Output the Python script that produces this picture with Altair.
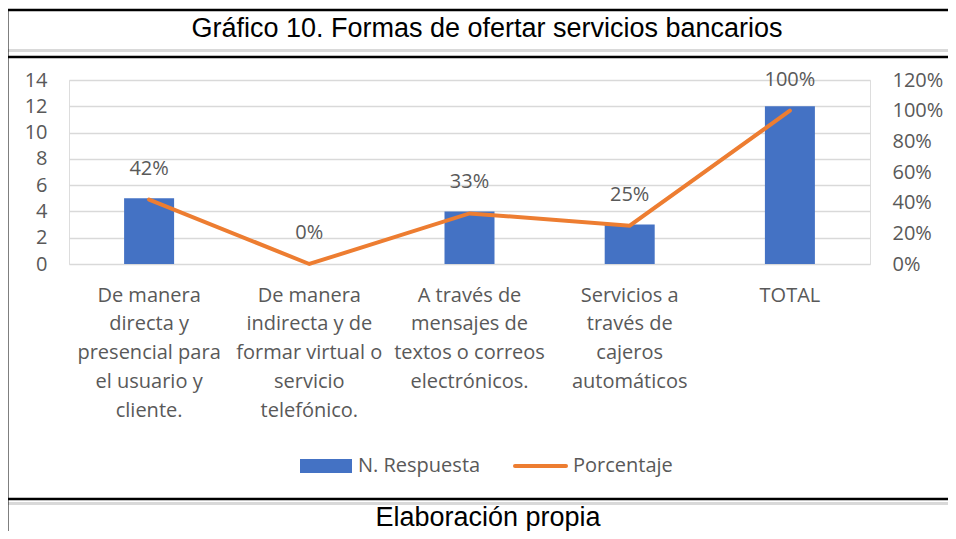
import altair as alt
import pandas as pd

categories = [
    "De manera|directa y|presencial para|el usuario y|cliente.",
    "De manera|indirecta y de|formar virtual o|servicio|telefónico.",
    "A través de|mensajes de|textos o correos|electrónicos.",
    "Servicios a|través de|cajeros|automáticos",
    "TOTAL",
]
respuestas = [5, 0, 4, 3, 12]
porcentaje = [0.42, 0.0, 0.33, 0.25, 1.00]
etiquetas = ["42%", "0%", "33%", "25%", "100%"]
count_ticks = [0, 2, 4, 6, 8, 10, 12, 14]
pct_ticks = [0, 0.2, 0.4, 0.6, 0.8, 1.0, 1.2]

title_text = "Gráfico 10. Formas de ofertar servicios bancarios"
footer_text = "Elaboración propia"
legend_names = ["N. Respuesta", "Porcentaje"]

df = pd.DataFrame({"cat": categories, "n": respuestas, "p": porcentaje, "lab": etiquetas})

FONT = "Open Sans"
FS = 20
GREY = "#595959"
BLUE = "#4472C4"
ORANGE = "#ED7D31"

x_enc = alt.X(
    "cat:N",
    sort=None,
    title=None,
    scale=alt.Scale(paddingInner=0, paddingOuter=0),
    axis=alt.Axis(
        labelAngle=0,
        labelExpr="split(datum.label, '|')",
        labelFont=FONT,
        labelFontSize=FS,
        labelColor=GREY,
        labelLineHeight=28.8,
        labelPadding=21,
        labelLimit=0,
        ticks=False,
        domain=False,
        grid=False,
    ),
)

base = alt.Chart(df)

bars = base.mark_bar(color=BLUE, size=50).encode(
    x=x_enc,
    y=alt.Y(
        "n:Q",
        title=None,
        scale=alt.Scale(domain=[0, 14], nice=False),
        axis=alt.Axis(
            values=count_ticks,
            labelFont=FONT,
            labelFontSize=FS,
            labelColor=GREY,
            labelPadding=22,
            ticks=False,
            tickSize=0,
            domain=False,
            grid=True,
            gridColor="#D9D9D9",
            gridWidth=1.3,
        ),
    ),
)

pct_scale = alt.Scale(domain=[0, 1.2], nice=False)
pct_axis = alt.Axis(
    orient="right",
    values=pct_ticks,
    format=".0%",
    labelFont=FONT,
    labelFontSize=FS,
    labelColor=GREY,
    labelPadding=22,
    ticks=False,
    tickSize=0,
    domain=False,
    grid=False,
)

line = base.mark_line(color=ORANGE, strokeWidth=4, strokeCap="round").encode(
    x=x_enc,
    y=alt.Y("p:Q", title=None, scale=pct_scale, axis=pct_axis),
)

labels = base.mark_text(font=FONT, fontSize=FS, color=GREY, dy=-31, baseline="middle").encode(
    x=x_enc,
    y=alt.Y("p:Q", title=None, scale=pct_scale, axis=pct_axis),
    text="lab:N",
)

# frame / boxes (decoration)
frame = alt.Chart(pd.DataFrame({"k": [0]}))
X0, X1 = -62, 880
r_top = frame.mark_rule(color="black", strokeWidth=2.5).encode(
    x=alt.value(X0), x2=alt.value(X1), y=alt.value(-70))
r_gray1 = frame.mark_rule(color="#D9D9D9", strokeWidth=3).encode(
    x=alt.value(X0), x2=alt.value(X1), y=alt.value(-29.5))
r_mid = frame.mark_rule(color="black", strokeWidth=2.5).encode(
    x=alt.value(X0), x2=alt.value(X1), y=alt.value(-23))
r_bot = frame.mark_rule(color="black", strokeWidth=2.5).encode(
    x=alt.value(X0), x2=alt.value(X1), y=alt.value(419))
r_gray2 = frame.mark_rule(color="#D9D9D9", strokeWidth=3).encode(
    x=alt.value(X0), x2=alt.value(X1), y=alt.value(423.5))
r_left = frame.mark_rule(color="black", strokeWidth=2).encode(
    x=alt.value(-61.5), y=alt.value(-71), y2=alt.value(460))

title = alt.Chart(pd.DataFrame({"t": [title_text]})).mark_text(
    font="Liberation Sans", fontSize=27, color="black", baseline="middle", align="center"
).encode(x=alt.value(418), y=alt.value(-51), text="t:N")

footer = alt.Chart(pd.DataFrame({"t": [footer_text]})).mark_text(
    font="Liberation Sans", fontSize=27, color="black", baseline="middle", align="center"
).encode(x=alt.value(419), y=alt.value(438), text="t:N")

# legend (manual)
leg_rect = frame.mark_rect(color=BLUE).encode(
    x=alt.value(231), x2=alt.value(283), y=alt.value(379), y2=alt.value(393))
leg_line = frame.mark_rule(color=ORANGE, strokeWidth=4, strokeCap="round").encode(
    x=alt.value(446), x2=alt.value(497), y=alt.value(386))
leg_t1 = alt.Chart(pd.DataFrame({"t": [legend_names[0]]})).mark_text(
    font=FONT, fontSize=FS, color=GREY, align="left", baseline="middle"
).encode(x=alt.value(289), y=alt.value(386), text="t:N")
leg_t2 = alt.Chart(pd.DataFrame({"t": [legend_names[1]]})).mark_text(
    font=FONT, fontSize=FS, color=GREY, align="left", baseline="middle"
).encode(x=alt.value(504), y=alt.value(386), text="t:N")

chart = alt.layer(
    bars,
    alt.layer(line, labels),
    r_top, r_gray1, r_mid, r_bot, r_gray2, r_left,
    title, footer, leg_rect, leg_line, leg_t1, leg_t2,
).resolve_scale(y="independent").properties(
    width=801,
    height=184,
    padding={"left": 61, "top": 72, "right": 78, "bottom": 267},
    autosize=alt.AutoSizeParams(type="none"),
).configure_view(stroke=None).configure(background="white")

chart.save("out.html", embed_options={"renderer": "svg", "actions": False})
